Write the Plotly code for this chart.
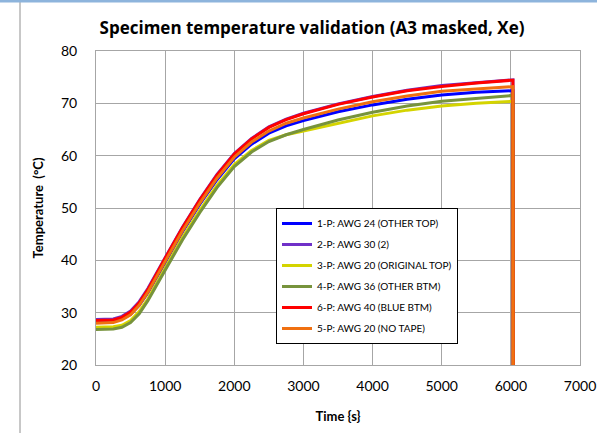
import plotly.graph_objects as go

# ---------------- data ----------------
time_s = [0, 250, 375, 500, 625, 750, 1000, 1250, 1500, 1750, 2000, 2250, 2500, 2750,
          3000, 3500, 4000, 4500, 5000, 5500, 6000, 6030, 6035]

t_1p_awg24 = [28.3, 28.4, 28.8, 29.7, 31.4, 33.8, 39.6, 45.4, 50.7, 55.4, 59.4, 62.2, 64.3, 65.7,
              66.7, 68.4, 69.7, 70.8, 71.6, 72.1, 72.4, 72.4, 0]
t_2p_awg30 = [28.7, 28.8, 29.3, 30.3, 32.1, 34.6, 40.5, 46.3, 51.6, 56.4, 60.4, 63.3, 65.5, 67.0,
              68.1, 69.9, 71.3, 72.5, 73.4, 74.0, 74.5, 74.5, 0]
t_3p_awg20 = [27.2, 27.3, 27.6, 28.5, 30.2, 32.6, 38.5, 44.3, 49.5, 54.3, 58.3, 61.0, 62.9, 64.0,
              64.7, 66.2, 67.6, 68.7, 69.5, 70.0, 70.4, 70.4, 0]
t_4p_awg36 = [26.8, 26.9, 27.2, 28.1, 29.8, 32.3, 38.1, 43.9, 49.1, 53.9, 57.9, 60.7, 62.7, 64.0,
              65.0, 66.8, 68.3, 69.5, 70.4, 71.0, 71.5, 71.5, 0]
t_6p_awg40 = [28.5, 28.6, 29.1, 30.1, 31.9, 34.4, 40.4, 46.2, 51.5, 56.3, 60.3, 63.2, 65.4, 66.9,
              68.0, 69.8, 71.2, 72.4, 73.2, 73.9, 74.4, 74.4, 0]
t_5p_awg20 = [28.0, 28.1, 28.6, 29.6, 31.4, 33.9, 39.8, 45.6, 50.9, 55.7, 59.7, 62.6, 64.7, 66.2,
              67.2, 68.9, 70.3, 71.4, 72.3, 72.8, 73.2, 73.2, 0]

series_names = ["1-P: AWG 24 (OTHER TOP)", "2-P: AWG 30 (2)", "3-P: AWG 20 (ORIGINAL TOP)",
                "4-P: AWG 36 (OTHER BTM)", "6-P: AWG 40 (BLUE BTM)", "5-P: AWG 20 (NO TAPE)"]
series_values = [t_1p_awg24, t_2p_awg30, t_3p_awg20, t_4p_awg36, t_6p_awg40, t_5p_awg20]
series_colors = ["#0000ff", "#7030c8", "#d4d400", "#77933c", "#ff0000", "#f07010"]

x_ticks = [0, 1000, 2000, 3000, 4000, 5000, 6000, 7000]
y_ticks = [20, 30, 40, 50, 60, 70, 80]

FONT = "Lato"

fig = go.Figure()
for i, (name, vals, col) in enumerate(zip(series_names, series_values, series_colors)):
    fig.add_trace(go.Scatter(
        x=time_s, y=vals, name=name, mode="lines",
        line=dict(color=col, width=3),
        legendgroup=f"g{i}",
    ))

# body margin removed by post_script: screen px == figure px
W, H = 597, 433
PL, PR, PT, PB = 96, 580, 51, 365   # plot area in px
L, R, T, B = PL, W - PR, PT, H - PB
pw, ph = PR - PL, PB - PT

def px_x(p):   # px -> paper
    return (p - PL) / pw

def px_y(p):
    return (PB - p) / ph

fig.update_layout(
    width=W, height=H,
    margin=dict(l=L, r=R, t=T, b=B, autoexpand=False),
    paper_bgcolor="white", plot_bgcolor="white",
    font=dict(family=FONT, color="#000000"),
    title=dict(text="<b>Specimen temperature validation (A3 masked, Xe)</b>",
               x=px_x(312), xanchor="center", xref="paper",
               y=1 - 28 / H, yanchor="middle",
               font=dict(size=17, family="Open Sans", color="#000000")),
    xaxis=dict(range=[0, 7000], tickvals=x_ticks, ticktext=[str(v) for v in x_ticks],
               showgrid=True, gridcolor="#a6a6a6", gridwidth=1,
               showline=True, linecolor="#a6a6a6", linewidth=1, mirror=True,
               zeroline=False, ticks="", tickfont=dict(size=14, family=FONT),
               ticklabelstandoff=8, automargin=False, ticklabeloverflow="allow",
               title=dict(text="<b>Time {s}</b>", font=dict(size=13, family=FONT), standoff=19)),
    yaxis=dict(range=[20, 80], tickvals=y_ticks, ticktext=[str(v) for v in y_ticks],
               showgrid=True, gridcolor="#a6a6a6", gridwidth=1,
               showline=True, linecolor="#a6a6a6", linewidth=1, mirror=True,
               zeroline=False, ticks="", tickfont=dict(size=14, family=FONT),
               ticklabelstandoff=15, automargin=False,
               title=dict(text="<b>Temperature  (°C)</b>", font=dict(size=13, family=FONT), standoff=14)),
    legend=dict(x=px_x(276), y=px_y(208), xanchor="left", yanchor="top",
                bgcolor="white", bordercolor="#000000", borderwidth=1,
                font=dict(size=10, family=FONT), tracegroupgap=2,
                itemwidth=30),
    showlegend=True,
    shapes=[
        dict(type="line", xref="paper", yref="paper", x0=px_x(20), x1=px_x(20),
             y0=px_y(0), y1=px_y(H), line=dict(color="#909090", width=1)),
        dict(type="rect", xref="paper", yref="paper", x0=px_x(0), x1=px_x(W),
             y0=px_y(2.5), y1=px_y(0), line=dict(width=0), fillcolor="#8db4dc"),
    ],
)

fig.write_html("out.html",
               config={"displayModeBar": False},
               post_script="document.body.style.margin='0';document.body.style.overflow='hidden';")
